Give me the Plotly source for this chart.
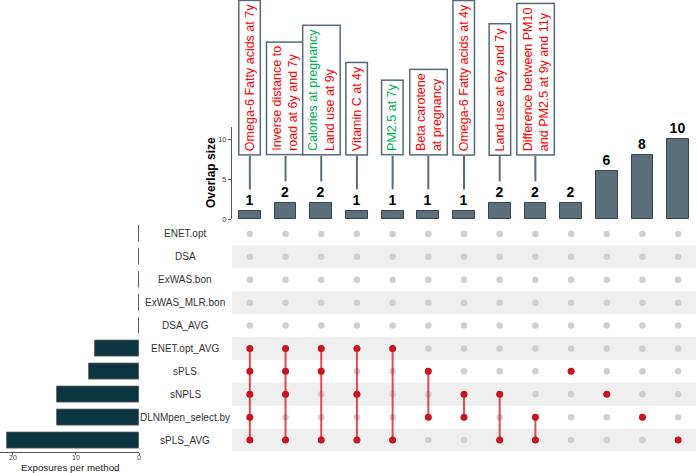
import plotly.graph_objects as go

# ---------------- data ----------------
sets = ["ENET.opt", "DSA", "ExWAS.bon", "ExWAS_MLR.bon", "DSA_AVG",
        "ENET.opt_AVG", "sPLS", "sNPLS", "DLNMpen_select.by", "sPLS_AVG"]
set_sizes = [0, 0, 0, 0, 0, 7, 8, 13, 13, 21]

intersection_counts = [1, 2, 2, 1, 1, 1, 1, 2, 2, 2, 6, 8, 10]
intersection_members = [
    ["ENET.opt_AVG", "sPLS", "sNPLS", "DLNMpen_select.by", "sPLS_AVG"],
    ["ENET.opt_AVG", "sPLS", "sNPLS", "sPLS_AVG"],
    ["ENET.opt_AVG", "sPLS", "sPLS_AVG"],
    ["ENET.opt_AVG", "sNPLS", "sPLS_AVG"],
    ["ENET.opt_AVG", "sPLS_AVG"],
    ["sPLS", "DLNMpen_select.by"],
    ["sNPLS", "DLNMpen_select.by"],
    ["sNPLS", "sPLS_AVG"],
    ["DLNMpen_select.by", "sPLS_AVG"],
    ["sPLS"],
    ["sNPLS"],
    ["DLNMpen_select.by"],
    ["sPLS_AVG"],
]

# exposure labels per intersection (lines); True marks green-highlighted lines
exposure_labels = [
    ["Omega-6 Fatty acids at 7y"],
    ["Inverse distance to", "road at 6y and 7y"],
    ["Calories at pregnancy", "Land use at 9y"],
    ["Vitamin C at 4y"],
    ["PM2.5 at 7y"],
    ["Beta carotene", "at pregnancy"],
    ["Omega-6 Fatty acids at 4y"],
    ["Land use at 6y and 7y"],
    ["Difference between PM10", "and PM2.5 at 9y and 11y"],
    None, None, None, None,
]
exposure_green = [
    [False],
    [False, False],
    [True, False],
    [False],
    [True],
    [False, False],
    [False],
    [False],
    [False, False],
    None, None, None, None,
]

set_axis_title = "Exposures per method"
overlap_axis_title = "Overlap size"

# ---------------- styles ----------------
W, H = 697, 473
RED_TXT = "#ff0000"
GREEN_TXT = "#00b050"
DOT_RED = "#c8141e"
DOT_GRAY = "#cfcfcf"
BAR_INT = "#5b6e7b"
BAR_SET = "#0c3542"
STRIPE = "#efefef"
BOX_BORDER = "#55697a"
FONT = "Liberation Sans, Arial, sans-serif"

def px_x(p):
    return p / W

def px_y(p):
    return (H - p) / H

ncols = len(intersection_counts)
nrows = len(sets)
cols = list(range(ncols))
rows = list(range(nrows))
row_of = {s: i for i, s in enumerate(sets)}

fig = go.Figure()

# intersection bars
fig.add_trace(go.Bar(
    x=cols, y=intersection_counts, xaxis="x", yaxis="y",
    marker=dict(color=BAR_INT, line=dict(color="#34444f", width=1)),
    width=0.61,
    text=[str(c) for c in intersection_counts], textposition="outside",
    textfont=dict(family=FONT, size=14, color="black", weight="bold"),
    cliponaxis=False, hoverinfo="skip", showlegend=False,
))

# matrix gray dots
gx, gy = [], []
for c in cols:
    for r in rows:
        gx.append(c)
        gy.append(r)
fig.add_trace(go.Scatter(
    x=gx, y=gy, xaxis="x2", yaxis="y2", mode="markers",
    marker=dict(color=DOT_GRAY, size=6.5), hoverinfo="skip", showlegend=False,
))

# matrix connecting lines
lx, ly = [], []
for c, mem in zip(cols, intersection_members):
    rr = [row_of[m] for m in mem]
    if len(rr) > 1:
        lx += [c, c, None]
        ly += [min(rr), max(rr), None]
fig.add_trace(go.Scatter(
    x=lx, y=ly, xaxis="x2", yaxis="y2", mode="lines",
    line=dict(color="rgba(210,20,30,0.75)", width=2),
    hoverinfo="skip", showlegend=False,
))

# matrix red dots
rx, ry = [], []
for c, mem in zip(cols, intersection_members):
    for m in mem:
        rx.append(c)
        ry.append(row_of[m])
fig.add_trace(go.Scatter(
    x=rx, y=ry, xaxis="x2", yaxis="y2", mode="markers",
    marker=dict(color=DOT_RED, size=7), hoverinfo="skip", showlegend=False,
))

# set size bars
fig.add_trace(go.Bar(
    x=set_sizes, y=rows, orientation="h", xaxis="x3", yaxis="y3",
    marker=dict(color=BAR_SET, line=dict(color="#555555", width=0.8)),
    width=0.7, hoverinfo="skip", showlegend=False,
))
# zero-size rows show only the bar outline
zx, zy = [], []
for r, s in zip(rows, set_sizes):
    if s == 0:
        zx += [0, 0, None]
        zy += [r - 0.35, r + 0.35, None]
fig.add_trace(go.Scatter(
    x=zx, y=zy, xaxis="x3", yaxis="y3", mode="lines",
    line=dict(color="#555555", width=1), hoverinfo="skip", showlegend=False,
))

shapes = []
# stripes
for r in rows:
    if r % 2 == 1:
        shapes.append(dict(type="rect", xref="paper", yref="y2",
                           x0=px_x(232), x1=px_x(696), y0=r - 0.5, y1=r + 0.5,
                           fillcolor=STRIPE, line=dict(width=0), layer="below"))

annotations = []
BOX_BASE = 7.9
for c, cnt, lab, grn in zip(cols, intersection_counts, exposure_labels, exposure_green):
    if lab is None:
        continue
    shapes.append(dict(type="line", xref="x", yref="y", x0=c, x1=c,
                       y0=cnt + 2.7, y1=BOX_BASE,
                       line=dict(color=BAR_INT, width=2)))
    parts = []
    for t, g in zip(lab, grn):
        col = GREEN_TXT if g else RED_TXT
        parts.append(f"<span style='color:{col}'>{t}</span>")
    annotations.append(dict(
        x=c, y=BOX_BASE, xref="x", yref="y", xanchor="center", yanchor="bottom",
        text="<br>".join(parts), showarrow=False, textangle=-90, align="left",
        font=dict(family=FONT, size=12.5, color=RED_TXT),
        bordercolor=BOX_BORDER, borderwidth=1.5, borderpad=3, bgcolor="white",
    ))

# row labels
for r, s in zip(rows, sets):
    annotations.append(dict(
        x=px_x(185), y=r, xref="paper", yref="y2", xanchor="center", yanchor="middle",
        text=s, showarrow=False, font=dict(family=FONT, size=10, color="#333333"),
    ))

# axis titles
annotations.append(dict(
    x=px_x(70), y=-1.5 / H, xref="paper", yref="paper", xanchor="center", yanchor="bottom",
    text=set_axis_title, showarrow=False, borderpad=0,
    font=dict(family=FONT, size=9.8, color="#222222"),
))
annotations.append(dict(
    x=px_x(211), y=px_y(173), xref="paper", yref="paper", xanchor="center", yanchor="middle",
    text=f"<b>{overlap_axis_title}</b>", textangle=-90, showarrow=False,
    font=dict(family=FONT, size=12, color="black"),
))

mat_dom = [px_y(451.5), px_y(222.5)]

fig.update_layout(
    width=W, height=H,
    margin=dict(l=0, r=0, t=0, b=0, autoexpand=False),
    paper_bgcolor="white", plot_bgcolor="rgba(0,0,0,0)",
    font=dict(family=FONT),
    bargap=0,
    xaxis=dict(domain=[px_x(232), px_x(696)], range=[-0.5, ncols - 0.5],
               visible=False, anchor="y"),
    yaxis=dict(domain=[px_y(219), px_y(127)], range=[0, 11.5], anchor="x",
               showline=True, linecolor="#555555", linewidth=1,
               ticks="outside", ticklen=3, tickcolor="#555555",
               tickvals=[0, 5, 10], tickfont=dict(size=7.5, color="#444444"),
               showgrid=False, zeroline=False),
    xaxis2=dict(domain=[px_x(232), px_x(696)], range=[-0.5, ncols - 0.5],
                visible=False, anchor="y2"),
    yaxis2=dict(domain=mat_dom, range=[nrows - 0.5, -0.5], visible=False, anchor="x2"),
    xaxis3=dict(domain=[0, px_x(139)], range=[22.06, 0], anchor="y3",
                showline=True, linecolor="#555555", linewidth=1,
                ticks="outside", ticklen=2, tickcolor="#555555",
                tickvals=[0, 10, 20], tickfont=dict(size=7, color="#444444"),
                ticklabelstandoff=-3,
                showgrid=False, zeroline=False),
    yaxis3=dict(domain=mat_dom, range=[nrows - 0.5, -0.5], visible=False, anchor="x3"),
    shapes=shapes,
    annotations=annotations,
)

fig.write_html("out.html", config={"displayModeBar": False},
               post_script="document.body.style.margin='0';document.body.style.overflow='hidden';")
